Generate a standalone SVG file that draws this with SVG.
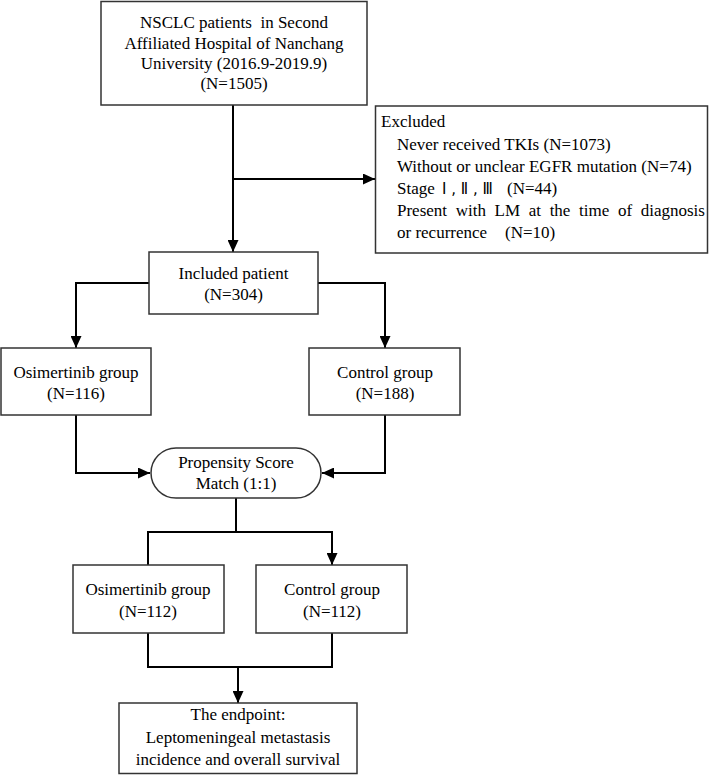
<svg xmlns="http://www.w3.org/2000/svg" width="709" height="775" viewBox="0 0 709 775">
<style>
.box{fill:#fff;stroke:#333;stroke-width:1.5}
.t{font-family:"Liberation Serif","Noto Sans CJK SC",serif;font-size:17px;fill:#000}
.c{text-anchor:middle}
.rn{font-family:"DejaVu Sans","Noto Sans CJK SC",sans-serif;font-size:15px}
.ln{fill:none;stroke:#000;stroke-width:2}
</style>
<defs>
<marker id="ah" markerUnits="userSpaceOnUse" markerWidth="12" markerHeight="11" refX="12" refY="5.5" orient="auto">
<path d="M0,0 L12,5.5 L0,11 z" fill="#000"/>
</marker>
</defs>
<rect width="709" height="775" fill="#fff"/>
<g id="connectors">
<line class="ln" x1="233" y1="105" x2="233" y2="252" marker-end="url(#ah)"/>
<line class="ln" x1="233" y1="179" x2="375" y2="179" marker-end="url(#ah)"/>
<polyline class="ln" points="149,283 76,283 76,348" marker-end="url(#ah)"/>
<polyline class="ln" points="318,283 385,283 385,348" marker-end="url(#ah)"/>
<polyline class="ln" points="76,415 76,473 150,473" marker-end="url(#ah)"/>
<polyline class="ln" points="385,415 385,473 322,473" marker-end="url(#ah)"/>
<line class="ln" x1="236" y1="498" x2="236" y2="532"/>
<polyline class="ln" points="148,565 148,532 332,532 332,565" marker-end="url(#ah)"/>
<polyline class="ln" points="148,633 148,667 332,667 332,633"/>
<line class="ln" x1="238" y1="667" x2="238" y2="703" marker-end="url(#ah)"/>
</g>
<g id="n-start">
<rect class="box" x="101" y="1.5" width="266" height="103.5"/>
<text class="t c" x="234" y="28">NSCLC patients&#160; in Second</text>
<text class="t c" x="234" y="48.5">Affiliated Hospital of Nanchang</text>
<text class="t c" x="234" y="69">University (2016.9-2019.9)</text>
<text class="t c" x="234" y="89">(N=1505)</text>
</g>
<g id="n-excluded">
<rect class="box" x="375.5" y="106" width="332" height="147"/>
<text class="t" x="381" y="127">Excluded</text>
<text class="t" x="397" y="149.5">Never received TKIs (N=1073)</text>
<text class="t" x="397" y="171.5">Without or unclear EGFR mutation (N=74)</text>
<text class="t" x="397" y="194">Stage <tspan class="rn" x="442">Ⅰ , Ⅱ , Ⅲ</tspan><tspan x="507">(N=44)</tspan></text>
<text class="t" x="397" y="216" word-spacing="4.4">Present with LM at the time of diagnosis</text>
<text class="t" x="397" y="238">or recurrence<tspan x="505">(N=10)</tspan></text>
</g>
<g id="n-included">
<rect class="box" x="149" y="252" width="169" height="62"/>
<text class="t c" x="233.5" y="279">Included patient</text>
<text class="t c" x="233.5" y="300">(N=304)</text>
</g>
<g id="n-osim1">
<rect class="box" x="1" y="348" width="150" height="67"/>
<text class="t c" x="76" y="378">Osimertinib group</text>
<text class="t c" x="76" y="398.5">(N=116)</text>
</g>
<g id="n-control1">
<rect class="box" x="309" y="348" width="151" height="67"/>
<text class="t c" x="385" y="378">Control group</text>
<text class="t c" x="385" y="398.5">(N=188)</text>
</g>
<g id="n-psm">
<rect class="box" x="151" y="448" width="170" height="50" rx="25" ry="25"/>
<text class="t c" x="236" y="468">Propensity Score</text>
<text class="t c" x="236" y="489">Match (1:1)</text>
</g>
<g id="n-osim2">
<rect class="box" x="73" y="565" width="151" height="68"/>
<text class="t c" x="148" y="595">Osimertinib group</text>
<text class="t c" x="148" y="617">(N=112)</text>
</g>
<g id="n-control2">
<rect class="box" x="256" y="565" width="151" height="68"/>
<text class="t c" x="332" y="595">Control group</text>
<text class="t c" x="332" y="617">(N=112)</text>
</g>
<g id="n-endpoint">
<rect class="box" x="119" y="703" width="238" height="70.5"/>
<text class="t c" x="238" y="720">The endpoint:</text>
<text class="t c" x="238" y="743">Leptomeningeal metastasis</text>
<text class="t c" x="238" y="765">incidence and overall survival</text>
</g>
</svg>
